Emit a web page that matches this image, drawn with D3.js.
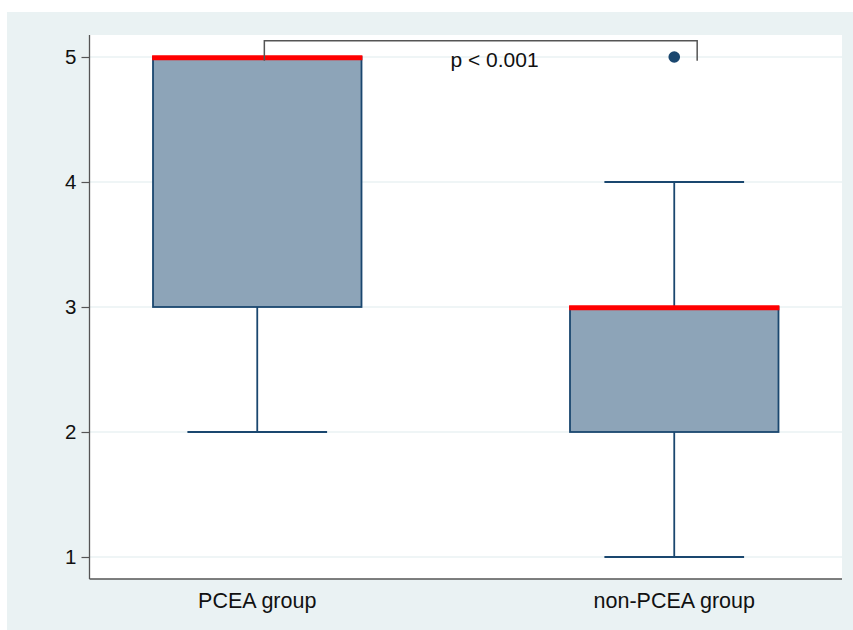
<!DOCTYPE html>
<html>
<head>
<meta charset="utf-8">
<script src="https://cdn.jsdelivr.net/npm/d3@7"></script>
<style>
  html, body { margin: 0; padding: 0; background: #ffffff; }
  svg { display: block; }
  text { font-family: "Liberation Sans", Arial, Helvetica, sans-serif; fill: #111; }
</style>
</head>
<body>
<svg id="chart" width="853" height="630"></svg>
<script>
// Box plot summary per group
const categories   = ["PCEA group", "non-PCEA group"];
const lowerWhisker = [2, 1];
const lowerQuart   = [3, 2];
const medians      = [5, 3];
const upperQuart   = [5, 3];
const upperWhisker = [5, 4];
const outliers     = [[], [5]];

// Y axis ticks
const yTicks = [1, 2, 3, 4, 5];

// Significance bracket between the groups (x in group-index units, y in data units)
const pLabel       = "p < 0.001";
const bracketX     = [0.017, 1.055];
const bracketTop   = 5.13;
const bracketFoot  = 4.97;
const pLabelX      = 0.569;
const pLabelY      = 4.92;

const W = 853, H = 630;
const plot = { left: 89.5, right: 842, top: 35, bottom: 579 };

const svg = d3.select("#chart");

// Outer graph region
svg.append("rect")
  .attr("x", 7).attr("y", 12)
  .attr("width", W - 7).attr("height", H - 12)
  .attr("fill", "#EAF2F3");

// Plot region
svg.append("rect")
  .attr("x", plot.left).attr("y", plot.top)
  .attr("width", plot.right - plot.left).attr("height", plot.bottom - plot.top)
  .attr("fill", "#ffffff");

// Scales
const y = d3.scaleLinear().domain([1, 5]).range([557, 57]);
const pad = 0.4023;
const x = d3.scaleLinear().domain([-pad, categories.length - 1 + pad]).range([plot.left, plot.right]);
const step = x(1) - x(0);
const boxW = step * 0.5;
const capW = step * 0.335;

// Gridlines
svg.append("g")
  .selectAll("line")
  .data(yTicks)
  .join("line")
  .attr("x1", plot.left).attr("x2", plot.right)
  .attr("y1", d => y(d)).attr("y2", d => y(d))
  .attr("stroke", "#EAF2F3").attr("stroke-width", 1.5);

// Y axis
const yAxis = d3.axisLeft(y).tickValues(yTicks).tickSize(8).tickPadding(5).tickFormat(d3.format("d"));
const gy = svg.append("g").attr("transform", `translate(${plot.left},0)`).call(yAxis);
gy.select(".domain").remove();
gy.selectAll(".tick line").attr("stroke", "#555").attr("stroke-width", 1.2);
gy.selectAll(".tick text").attr("font-size", 20.5).attr("fill", "#111")
  .style("font-family", "'Liberation Sans', Arial, sans-serif");

svg.append("line")
  .attr("x1", plot.left).attr("x2", plot.left)
  .attr("y1", plot.top).attr("y2", plot.bottom)
  .attr("stroke", "#555").attr("stroke-width", 1.3);

// X axis line and category labels
svg.append("line")
  .attr("x1", plot.left).attr("x2", plot.right)
  .attr("y1", plot.bottom).attr("y2", plot.bottom)
  .attr("stroke", "#555").attr("stroke-width", 1.3);

svg.append("g")
  .selectAll("text")
  .data(categories)
  .join("text")
  .attr("x", (d, i) => x(i))
  .attr("y", 607.5)
  .attr("text-anchor", "middle")
  .attr("font-size", 21.5)
  .text(d => d);

// Boxes
const groups = svg.append("g")
  .selectAll("g")
  .data(categories.map((c, i) => ({
    c, i,
    lw: lowerWhisker[i], q1: lowerQuart[i], med: medians[i],
    q3: upperQuart[i], uw: upperWhisker[i], out: outliers[i]
  })))
  .join("g");

const navy = "#1A476F";

// Whiskers
groups.append("line")
  .attr("x1", d => x(d.i)).attr("x2", d => x(d.i))
  .attr("y1", d => y(d.q1)).attr("y2", d => y(d.lw))
  .attr("stroke", navy).attr("stroke-width", 1.8);
groups.filter(d => d.uw > d.q3).append("line")
  .attr("x1", d => x(d.i)).attr("x2", d => x(d.i))
  .attr("y1", d => y(d.q3)).attr("y2", d => y(d.uw))
  .attr("stroke", navy).attr("stroke-width", 1.8);

// Whisker caps
groups.append("line")
  .attr("x1", d => x(d.i) - capW / 2).attr("x2", d => x(d.i) + capW / 2)
  .attr("y1", d => y(d.lw)).attr("y2", d => y(d.lw))
  .attr("stroke", navy).attr("stroke-width", 1.8);
groups.filter(d => d.uw > d.q3).append("line")
  .attr("x1", d => x(d.i) - capW / 2).attr("x2", d => x(d.i) + capW / 2)
  .attr("y1", d => y(d.uw)).attr("y2", d => y(d.uw))
  .attr("stroke", navy).attr("stroke-width", 1.8);

// Interquartile boxes
groups.append("rect")
  .attr("x", d => x(d.i) - boxW / 2)
  .attr("width", boxW)
  .attr("y", d => y(d.q3))
  .attr("height", d => y(d.q1) - y(d.q3))
  .attr("fill", "#8DA4B8")
  .attr("stroke", navy).attr("stroke-width", 1.8);

// Medians
groups.append("line")
  .attr("x1", d => x(d.i) - boxW / 2 - 0.9).attr("x2", d => x(d.i) + boxW / 2 + 0.9)
  .attr("y1", d => y(d.med) + 0.8).attr("y2", d => y(d.med) + 0.8)
  .attr("stroke", "#FF0000").attr("stroke-width", 5);

// Outside values
groups.selectAll("circle")
  .data(d => d.out.map(v => ({ i: d.i, v })))
  .join("circle")
  .attr("cx", d => x(d.i)).attr("cy", d => y(d.v))
  .attr("r", 5.8)
  .attr("fill", navy);

// Significance bracket
svg.append("path")
  .attr("d", d3.line()([
    [x(bracketX[0]), y(bracketFoot)],
    [x(bracketX[0]), y(bracketTop)],
    [x(bracketX[1]), y(bracketTop)],
    [x(bracketX[1]), y(bracketFoot)]
  ]))
  .attr("fill", "none")
  .attr("stroke", "#555").attr("stroke-width", 1.5);

svg.append("text")
  .attr("x", x(pLabelX)).attr("y", y(pLabelY))
  .attr("text-anchor", "middle")
  .attr("font-size", 21)
  .text(pLabel);
</script>
</body>
</html>
